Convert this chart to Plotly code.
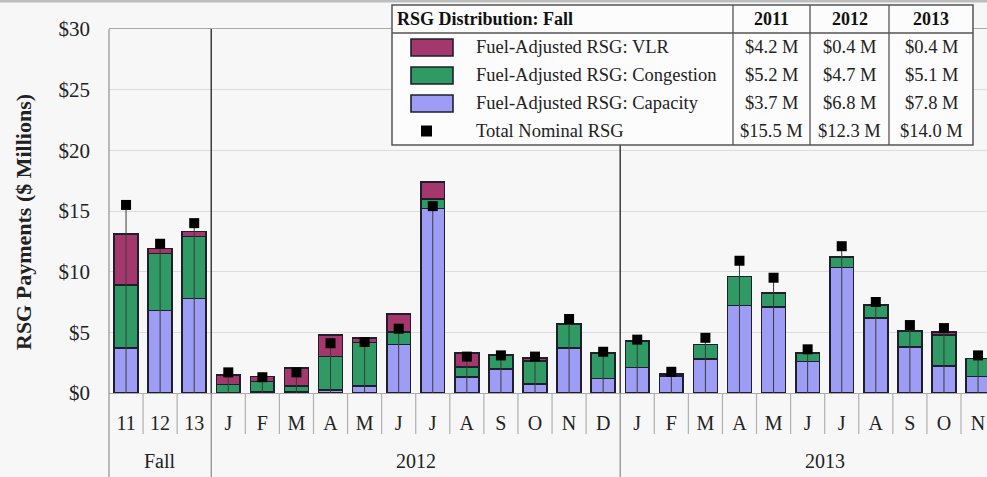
import plotly.graph_objects as go

# ---------------- data ----------------
categories = ['11', '12', '13',
              'J', 'F', 'M', 'A', 'M', 'J', 'J', 'A', 'S', 'O', 'N', 'D',
              'J', 'F', 'M', 'A', 'M', 'J', 'J', 'A', 'S', 'O', 'N']
groups = ['Fall', '2012', '2013']
group_spans = [(0, 2), (3, 14), (15, 26)]   # index ranges (2013 band spans a full year)

capacity = [3.7, 6.8, 7.8,
            0.05, 0.1, 0.1, 0.25, 0.6, 4.0, 15.2, 1.3, 2.0, 0.75, 3.7, 1.2,
            2.1, 1.4, 2.8, 7.2, 7.1, 2.6, 10.35, 6.2, 3.8, 2.25, 1.35]
congestion = [5.2, 4.7, 5.1,
              0.65, 0.85, 0.5, 2.75, 3.55, 1.05, 0.8, 0.85, 1.1, 1.9, 2.0, 2.05,
              2.15, 0.15, 1.2, 2.4, 1.1, 0.7, 0.85, 1.05, 1.3, 2.55, 1.5]
vlr = [4.2, 0.4, 0.4,
       0.8, 0.4, 1.45, 1.8, 0.4, 1.45, 1.4, 1.15, 0.05, 0.25, 0.0, 0.03,
       0.03, 0.0, 0.0, 0.0, 0.05, 0.0, 0.05, 0.0, 0.0, 0.25, 0.0]
total_nominal = [15.5, 12.3, 14.0,
                 1.7, 1.3, 1.7, 4.1, 4.2, 5.3, 15.4, 3.0, 3.1, 3.0, 6.1, 3.4,
                 4.4, 1.75, 4.55, 10.9, 9.5, 3.6, 12.1, 7.5, 5.6, 5.35, 3.1]

fall_years = ['2011', '2012', '2013']
fall_vlr = [4.2, 0.4, 0.4]
fall_congestion = [5.2, 4.7, 5.1]
fall_capacity = [3.7, 6.8, 7.8]
fall_total = [15.5, 12.3, 14.0]

series_names = ['Fuel-Adjusted RSG: VLR', 'Fuel-Adjusted RSG: Congestion',
                'Fuel-Adjusted RSG: Capacity', 'Total Nominal RSG']
y_ticks = [0, 5, 10, 15, 20, 25, 30]

# ---------------- styles / geometry ----------------
W, H = 987, 477
L, R, T, B = 109, 0, 29, 84
PW, PH = W - L - R, H - T - B
CELL = 34.08
xmin = -0.5
xmax = xmin + PW / CELL

C_CAP = '#9d9df5'
C_CONG = '#2f9a63'
C_VLR = '#a4386c'
EDGE = '#1f1f2b'
BG = '#f7f7f7'
FONT = 'Liberation Serif, Times New Roman, serif'


def px(X):
    return (X - L) / PW


def py(Y):
    return 1 - (Y - T) / PH


def cx(v):
    return (v - xmin) / (xmax - xmin)


xs = list(range(len(categories)))

fig = go.Figure()
for vals, col, name in [(capacity, C_CAP, series_names[2]),
                        (congestion, C_CONG, series_names[1]),
                        (vlr, C_VLR, series_names[0])]:
    fig.add_trace(go.Bar(x=xs, y=vals, name=name, width=0.7,
                         marker=dict(color=col, line=dict(color=EDGE, width=1.6))))

fig.add_trace(go.Scatter(
    x=xs, y=total_nominal, mode='markers', name=series_names[3],
    marker=dict(symbol='square', size=10, color='black'),
    error_y=dict(type='data', symmetric=False, array=[0] * len(xs),
                 arrayminus=total_nominal, color='#3a3a3a', thickness=1, width=0)))

shapes = []
annotations = []

# top grey band of the page
shapes.append(dict(type='rect', xref='paper', yref='paper', x0=px(0), x1=px(W),
                   y0=py(2.5), y1=py(0), fillcolor='#bdbdbd', line=dict(width=0),
                   layer='below'))

# group separators inside the plot
for a, b in group_spans[1:]:
    shapes.append(dict(type='line', xref='x', yref='paper', x0=a - 0.5, x1=a - 0.5,
                       y0=0, y1=1, line=dict(color='#3c3c3c', width=1.5)))
# left border running to the bottom
shapes.append(dict(type='line', xref='paper', yref='paper', x0=0, x1=0,
                   y0=py(H), y1=1, line=dict(color='#9a9a9a', width=1.3)))
# tick separators below the axis
group_bounds = [a - 0.5 for a, b in group_spans[1:]]
for i in range(len(categories) - 1):
    bnd = i + 0.5
    if bnd in group_bounds:
        y0 = py(H)
        colr = '#8a8a8a'
    else:
        y0 = py(434)
        colr = '#b0b0b0'
    shapes.append(dict(type='line', xref='paper', yref='paper', x0=cx(bnd), x1=cx(bnd),
                       y0=y0, y1=0, line=dict(color=colr, width=1.2)))

# group labels
for name, (a, b) in zip(groups, group_spans):
    annotations.append(dict(text=name, xref='paper', yref='paper',
                            x=cx((a + b) / 2), y=py(461), showarrow=False,
                            xanchor='center', yanchor='middle',
                            font=dict(family=FONT, size=20, color='#222')))

# y axis title
annotations.append(dict(text='<b>RSG Payments ($ Millions)</b>', xref='paper', yref='paper',
                        x=px(23), y=py(222), textangle=-90, showarrow=False,
                        xanchor='center', yanchor='middle',
                        font=dict(family=FONT, size=22, color='#222')))

# ---------------- legend table ----------------
TX0, TX1, TY0, TY1 = 392, 973, 5, 145
col_lines = [733, 810, 889]
header_bottom = 33
row_y = [47, 75, 103, 131]
shapes.append(dict(type='rect', xref='paper', yref='paper', x0=px(TX0), x1=px(TX1),
                   y0=py(TY1), y1=py(TY0), fillcolor='#fcfcfc',
                   line=dict(color='#555', width=1.5)))
shapes.append(dict(type='line', xref='paper', yref='paper', x0=px(TX0), x1=px(TX1),
                   y0=py(header_bottom), y1=py(header_bottom), line=dict(color='#555', width=1.3)))
for cxl in col_lines:
    shapes.append(dict(type='line', xref='paper', yref='paper', x0=px(cxl), x1=px(cxl),
                       y0=py(TY1), y1=py(TY0), line=dict(color='#555', width=1.3)))

annotations.append(dict(text='<b>RSG Distribution: Fall</b>', xref='paper', yref='paper',
                        x=px(395), y=py(19), showarrow=False, xanchor='left', yanchor='middle',
                        font=dict(family=FONT, size=18, color='#111')))
col_centers = [(col_lines[0] + col_lines[1]) / 2, (col_lines[1] + col_lines[2]) / 2,
               (col_lines[2] + TX1) / 2]
for yr, ccen in zip(fall_years, col_centers):
    annotations.append(dict(text='<b>' + yr + '</b>', xref='paper', yref='paper',
                            x=px(ccen), y=py(19), showarrow=False, xanchor='center',
                            yanchor='middle', font=dict(family=FONT, size=18, color='#111')))

row_vals = [fall_vlr, fall_congestion, fall_capacity, fall_total]
row_cols = [C_VLR, C_CONG, C_CAP, None]
for ry, name, vals, colr in zip(row_y, series_names, row_vals, row_cols):
    if colr is not None:
        shapes.append(dict(type='rect', xref='paper', yref='paper', x0=px(411), x1=px(453),
                           y0=py(ry + 9), y1=py(ry - 8), fillcolor=colr,
                           line=dict(color=EDGE, width=1.6)))
    else:
        shapes.append(dict(type='rect', xref='paper', yref='paper', x0=px(421), x1=px(432),
                           y0=py(ry + 5.5), y1=py(ry - 5.5), fillcolor='black',
                           line=dict(width=0)))
    annotations.append(dict(text=name, xref='paper', yref='paper', x=px(474), y=py(ry),
                            showarrow=False, xanchor='left', yanchor='middle',
                            font=dict(family=FONT, size=18.5, color='#222')))
    for v, ccen in zip(vals, col_centers):
        annotations.append(dict(text='${:.1f} M'.format(v), xref='paper', yref='paper',
                                x=px(ccen), y=py(ry), showarrow=False, xanchor='center',
                                yanchor='middle', font=dict(family=FONT, size=18.5, color='#222')))

fig.update_layout(
    width=W, height=H, margin=dict(l=L, r=R, t=T, b=B, pad=0),
    paper_bgcolor=BG, plot_bgcolor=BG, barmode='stack', showlegend=False,
    bargap=0.3,
    shapes=shapes, annotations=annotations,
    xaxis=dict(range=[xmin, xmax], tickmode='array', tickvals=xs, ticktext=categories,
               showgrid=False, zeroline=False, ticks='', ticklabelstandoff=12,
               tickfont=dict(family=FONT, size=20, color='#222'),
               showline=True, linecolor='#a8a8a8', linewidth=1.2, mirror=True),
    yaxis=dict(range=[0, 30], tickmode='array', tickvals=y_ticks,
               ticktext=['${}'.format(v) for v in y_ticks],
               showgrid=True, gridcolor='#dcdcdc', gridwidth=1, zeroline=False,
               ticks='', ticklabelstandoff=18, showline=False,
               tickfont=dict(family=FONT, size=21, color='#222')),
)

fig.write_html('out.html')
